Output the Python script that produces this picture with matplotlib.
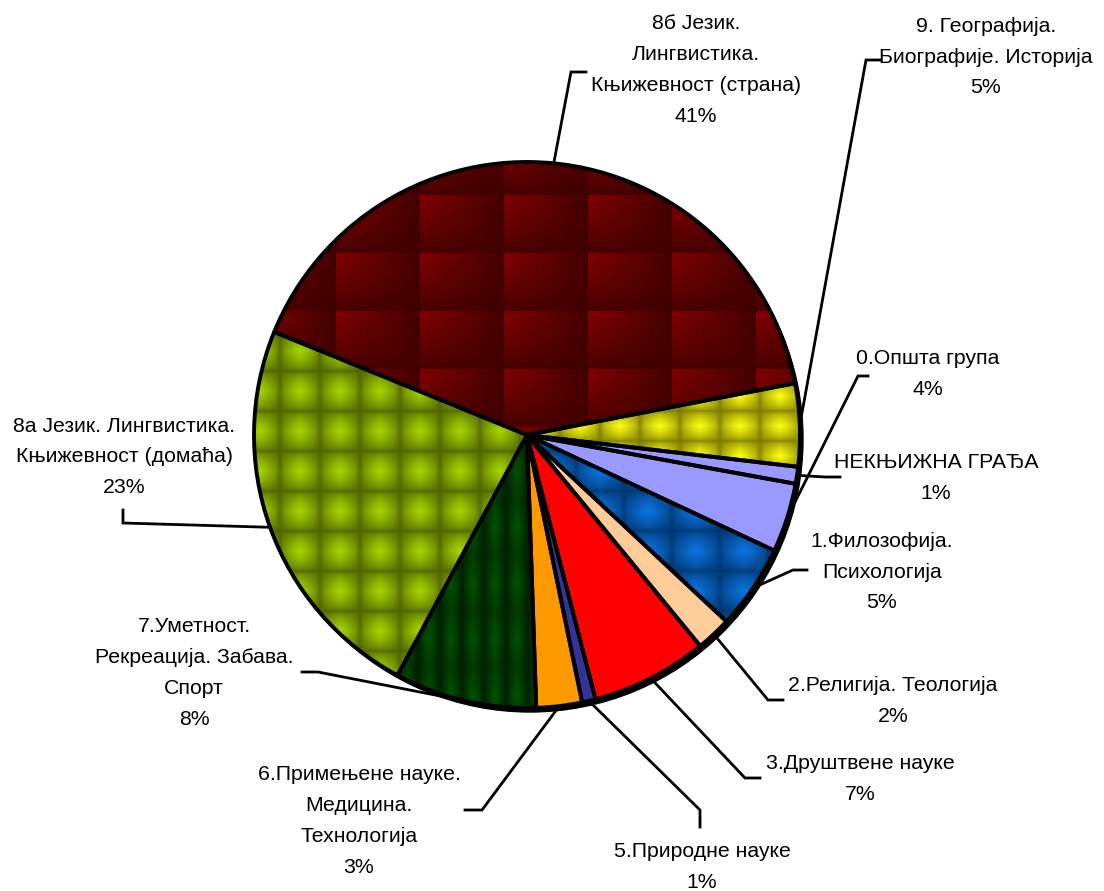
import numpy as np
import matplotlib
matplotlib.use('Agg')
import matplotlib.pyplot as plt
from matplotlib.patches import Wedge, Circle

W, H = 1104, 891

# data, in the order the slices are drawn (clockwise)
names = ['0.Општа група',
         '1.Филозофија.\nПсихологија',
         '2.Религија. Теологија',
         '3.Друштвене науке',
         '5.Природне науке',
         '6.Примењене науке.\nМедицина.\nТехнологија',
         '7.Уметност.\nРекреација. Забава.\nСпорт',
         '8а Језик. Лингвистика.\nКњижевност (домаћа)',
         '8б Језик.\nЛингвистика.\nКњижевност (страна)',
         '9. Географија.\nБиографије. Историја',
         'НЕКЊИЖНА ГРАЂА']
values = [4.1, 5.0, 2.1, 6.9, 0.8, 2.7, 8.4, 23.3, 40.8, 4.9, 1.0]
colors = ['#9999FF', '#0066CC', '#FFCC99', '#FF0000', '#333399', '#FF9900',
          '#003300', '#99CC00', '#800000', '#FFFF00', '#9999FF']

# layout (image pixels, y down): text centre, leader elbow, leader end
text_pos = [(928, 374), (882, 572), (893, 701), (860, 779), (702, 867), (359, 821),
            (194, 673), (124, 457), (696, 70), (986, 57), (936, 478)]
elbows = [(858, 376), (793, 570), (768, 700), (745, 778), (700, 810), (482, 810),
          (318, 672), (123, 523), (571, 72), (866, 60), (825, 477)]
ends = [(868, 376), (807, 570), (783, 700), (760, 778), (700, 827), (465, 810),
        (302, 672), (123, 510), (586, 72), (880, 60), (840, 477)]

# texture per slice: kind, tile w, tile h, light, dark
textures = {1: ('star', 48, 40, '#0a74e0', '#00356e'),
            6: ('stripe', 22, 56, '#005200', '#001e00'),
            7: ('star', 40, 40, '#a6d600', '#4e6000'),
            8: ('block', 84, 58, '#820000', '#3a0000'),
            9: ('star', 40, 30, '#ffff10', '#7a7800')}

cx, cy, r = 527, H - 435, 273


def P(p):
    return p[0], H - p[1]


def hex2rgb(c):
    return np.array(matplotlib.colors.to_rgb(c))


def make_texture(kind, tw, th, light, dark):
    xs = np.arange(cx - r, cx + r) + 0.5
    ys = np.arange(cy - r, cy + r) + 0.5
    X, Y = np.meshgrid(xs, ys)
    u = (X % tw) / tw
    v = (Y % th) / th
    if kind == 'block':
        b = (1 - u) ** 0.9 * v ** 0.7
        b = 0.1 + 0.9 * b
    elif kind == 'stripe':
        b = (1 - np.abs(2 * u - 1)) ** 0.8 * (0.6 + 0.4 * (1 - np.abs(2 * v - 1)))
    else:
        b = ((1 - np.abs(2 * u - 1)) * (1 - np.abs(2 * v - 1))) ** 0.5
    lo, hi = hex2rgb(dark), hex2rgb(light)
    return lo + (hi - lo) * b[..., None]


fig = plt.figure(figsize=(W / 100, H / 100), dpi=100)
ax = fig.add_axes([0, 0, 1, 1])

# shadow rim under the pie
ax.add_patch(Circle((cx + 3, cy - 4), r, facecolor='black', edgecolor='black', lw=1, zorder=1))

wedges, _ = ax.pie(values, colors=colors, startangle=-10.3, counterclock=False,
                   center=(cx, cy), radius=r, wedgeprops=dict(linewidth=0))
for w in wedges:
    w.set_zorder(2)

for i, (kind, tw, th, light, dark) in textures.items():
    img = make_texture(kind, tw, th, light, dark)
    im = ax.imshow(img, extent=(cx - r, cx + r, cy - r, cy + r), origin='lower',
                   interpolation='bilinear', zorder=3)
    im.set_clip_path(wedges[i])

for w in wedges:
    ax.add_patch(Wedge(w.center, w.r, w.theta1, w.theta2, facecolor='none',
                       edgecolor='black', lw=2.8, joinstyle='round', zorder=4))
ax.add_patch(Circle((cx, cy), r, facecolor='none', edgecolor='black', lw=1.6, zorder=5))

total = sum(values)
for i, w in enumerate(wedges):
    mid = np.deg2rad((w.theta1 + w.theta2) / 2)
    start = (cx + r * np.cos(mid), cy + r * np.sin(mid))
    ex, ey = P(elbows[i])
    fx, fy = P(ends[i])
    ax.plot([start[0], ex, fx], [start[1], ey, fy], color='black', lw=2.0,
            solid_joinstyle='miter', zorder=0.5)
    tx, ty = P(text_pos[i])
    pct = round(values[i] / total * 100)
    ax.text(tx, ty, f'{names[i]}\n{pct:.0f}%', ha='center', va='center',
            fontsize=15.3, linespacing=1.78, family=['Liberation Sans', 'DejaVu Sans'],
            color='black', zorder=6)

ax.set_xlim(0, W)
ax.set_ylim(0, H)
ax.set_aspect('equal')
ax.axis('off')

fig.savefig('out.png', dpi=100, facecolor='white')
